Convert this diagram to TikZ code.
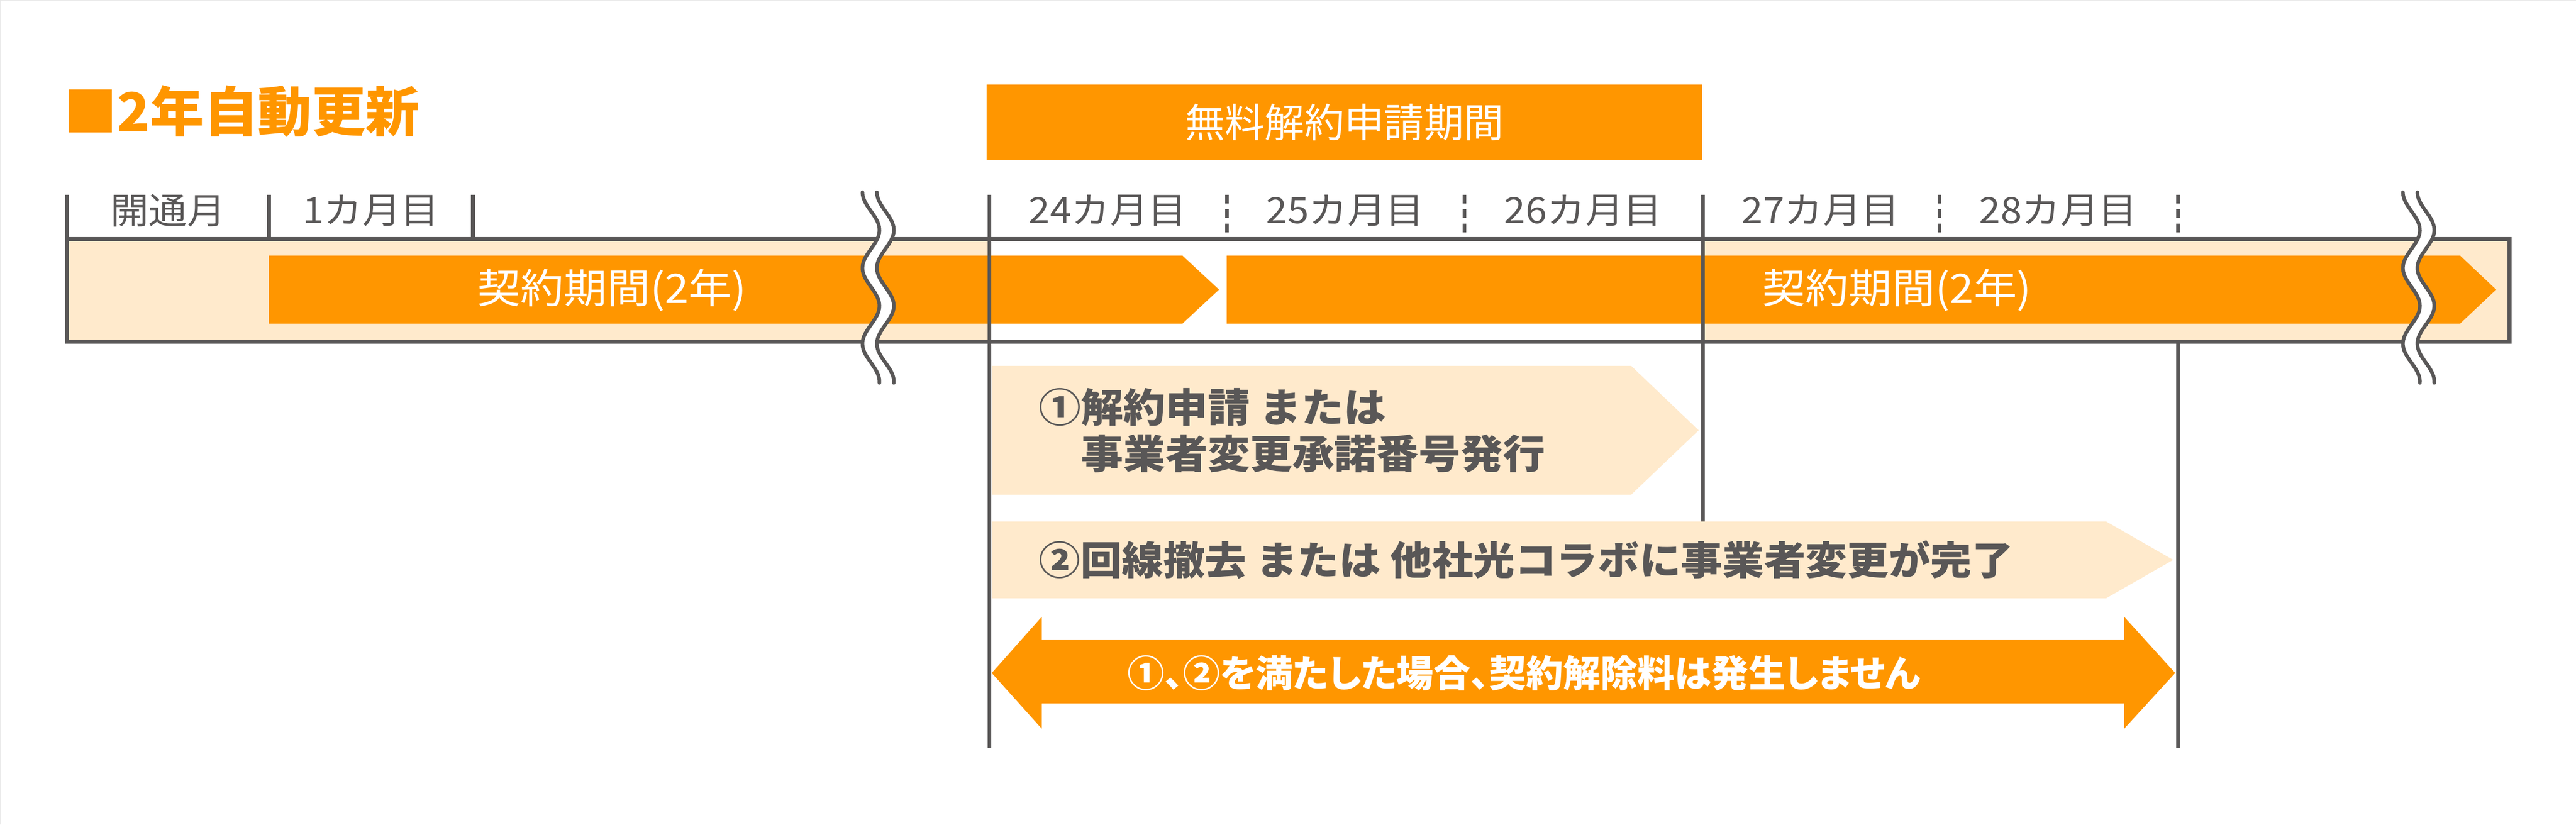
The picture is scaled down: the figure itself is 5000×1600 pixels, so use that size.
\documentclass[tikz,border=0pt]{standalone}
\usepackage{fontspec}
\setmainfont{Noto Sans CJK JP}
\newfontfamily\wfont{Noto Sans CJK JP}[FakeStretch=1.06]
\newfontfamily\pfont{Noto Sans CJK JP}[RawFeature=+palt]
\definecolor{og}{HTML}{FF9600}
\definecolor{pc}{HTML}{FFEACC}
\definecolor{gy}{HTML}{595757}
\definecolor{edge}{HTML}{E6E6E6}
\tikzset{
  lbl/.style={text=gy, inner sep=0, font=\wfont\fontsize{40}{42}\selectfont},
  barlbl/.style={text=white, inner sep=0, font=\wfont\fontsize{45}{48}\selectfont},
  condtxt/.style={text=gy, inner sep=0, anchor=west, align=left, font=\wfont\bfseries\fontsize{44}{51}\selectfont},
  tickline/.style={draw=gy, line width=4pt},
  dashtick/.style={draw=gy, line width=4pt, dash pattern=on 9.6pt off 6.4pt},
  waveline/.style={draw=gy, line width=4pt, line cap=round},
}
\begin{document}
\begin{tikzpicture}[x=0.02cm, y=-0.02cm]
\useasboundingbox (0,0) rectangle (5000,1600);
\fill[white] (0,0) rectangle (5000,1600);
\draw[edge, line width=1.5pt] (0,1600) -- (0,0) -- (5000,0);

% title
\node (title) [anchor=west, inner sep=0, text=og, font=\bfseries\fontsize{59.5}{62}\selectfont] at (123,216) {■2年自動更新};

% free cancellation period box
\node (free) [fill=og, minimum width=27.78cm, minimum height=2.92cm, inner sep=0, text=white, font=\fontsize{44}{46}\selectfont] at (2609.5,237) {無料解約申請期間};

% main bar
\fill[pc] (130,464) rectangle (4871,663);
\fill[white] (1920,464) rectangle (3305,663);
\fill[og] (522,496) -- (2295,496) -- (2366,562) -- (2295,628) -- (522,628) -- cycle;
\fill[og] (2381,496) -- (4775,496) -- (4845,562) -- (4775,628) -- (2381,628) -- cycle;
\draw[gy, line width=4.8pt] (130,464) rectangle (4871,663);
\node (bar1) [barlbl] at (1188,563) {契約期間(2年)};
\node (bar2) [barlbl] at (3682,563) {契約期間(2年)};

% ticks
\draw[tickline] (130,378) -- (130,464);
\draw[tickline] (522,378) -- (522,464);
\draw[tickline] (918,378) -- (918,464);
\draw[dashtick] (2381,378) -- (2381,461);
\draw[dashtick] (2842,378) -- (2842,461);
\draw[dashtick] (3764,378) -- (3764,461);
\draw[dashtick] (4227,378) -- (4227,461);

% long vertical lines
\coordinate (v1top) at (1920,378);
\coordinate (v1bot) at (1920,1451);
\coordinate (v2top) at (3305,378);
\coordinate (v2bot) at (3305,1013);
\coordinate (v3top) at (4227,663);
\coordinate (v3bot) at (4227,1451);
\draw[tickline] (v1top) -- (v1bot);
\draw[tickline] (v2top) -- (v2bot);
\draw[tickline] (v3top) -- (v3bot);

% month labels
\node (m0) [lbl] at (326,409) {開通月};
\node (m1) [lbl] at (720,409) {1カ月目};
\node (m24) [lbl] at (2150,409) {24カ月目};
\node (m25) [lbl] at (2611,409) {25カ月目};
\node (m26) [lbl] at (3073,409) {26カ月目};
\node (m27) [lbl] at (3534,409) {27カ月目};
\node (m28) [lbl] at (3995,409) {28カ月目};

% wavy breaks
\foreach \s in {0,2990}{
  \fill[white] plot[domain=373:743, samples=90, variable=\t] ({\s+1690.5-16.5*cos((\t-373)*2.449)},\t)
     -- plot[domain=743:373, samples=90, variable=\t] ({\s+1718.5-16.5*cos((\t-373)*2.449)},\t) -- cycle;
  \draw[waveline] plot[domain=373:743, samples=90, variable=\t] ({\s+1690.5-16.5*cos((\t-373)*2.449)},\t);
  \draw[waveline] plot[domain=373:743, samples=90, variable=\t] ({\s+1718.5-16.5*cos((\t-373)*2.449)},\t);
}

% condition blocks
\fill[pc] (1925,710) -- (3166,710) -- (3297,835) -- (3166,960) -- (1925,960) -- cycle;
\fill[pc] (1925,1012) -- (4088,1012) -- (4218,1086.5) -- (4088,1161) -- (1925,1161) -- cycle;
\fill[og] (1925,1306) -- (2022,1197) -- (2022,1241) -- (4123,1241) -- (4123,1197) -- (4222,1306)
   -- (4123,1414) -- (4123,1365) -- (2022,1365) -- (2022,1414) -- cycle;

\node (c1) [condtxt] at (2016,835) {①解約申請 または\\\phantom{①}事業者変更承諾番号発行};
\node (c2) [condtxt, font=\wfont\bfseries\fontsize{43.3}{51}\selectfont] at (2016,1086) {②回線撤去 または 他社光コラボに事業者変更が完了};
\node (c3) [text=white, inner sep=0, anchor=west, font=\pfont\bfseries\fontsize{41}{44}\selectfont] at (2188,1306) {①、②を満たした場合、契約解除料は発生しません};
\end{tikzpicture}
\end{document}
